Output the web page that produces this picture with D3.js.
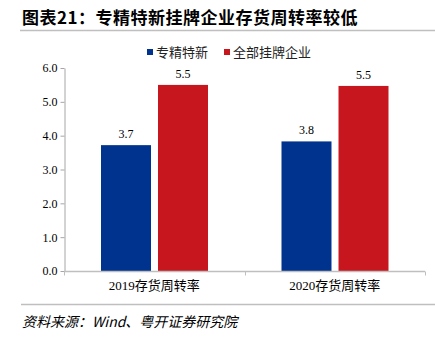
<!DOCTYPE html>
<html><head><meta charset="utf-8">
<script src="https://cdn.jsdelivr.net/npm/d3@7"></script>
<style>body{margin:0;background:#fff}svg{display:block}</style>
</head><body>
<svg id="c" width="435" height="338"></svg>
<script>
const categories = ["2019存货周转率", "2020存货周转率"];
const seriesNames = ["专精特新", "全部挂牌企业"];
const seriesA = [3.72, 3.83];
const seriesB = [5.50, 5.47];
const labelsA = ["3.7", "3.8"];
const labelsB = ["5.5", "5.5"];
const yTicks = [0, 1, 2, 3, 4, 5, 6];
const titleText = "图表21：专精特新挂牌企业存货周转率较低";
const sourceText = "资料来源：Wind、粤开证券研究院";

const colors = ["#00338D", "#C8161E"];
const serif = "'Liberation Serif','Noto Sans CJK SC',serif";
const cjk = "'Noto Sans CJK SC',sans-serif";
const svg = d3.select("#c");

// Title
svg.append("text").attr("x", 22).attr("y", 24).text(titleText)
  .attr("font-family", "'Noto Sans CJK SC',sans-serif").attr("font-weight", "bold")
  .attr("font-size", 17).attr("letter-spacing", 0.5).attr("fill", "#000");
svg.append("line").attr("x1", 20).attr("x2", 435).attr("y1", 30.5).attr("y2", 30.5)
  .attr("stroke", "#bfbfbf").attr("stroke-width", 1.5);

// Scales
const y = d3.scaleLinear().domain([0, 6]).range([271, 68]);
const x0 = d3.scaleBand().domain(categories).range([64, 425]).padding(0);
const x1 = d3.scaleBand().domain(seriesNames).range([37, 144]).paddingInner(0.123).paddingOuter(0);

// Y axis
const yAxis = svg.append("g").attr("transform", "translate(64.5,0)")
  .call(d3.axisLeft(y).tickValues(yTicks).tickFormat(d3.format(".1f")).tickSize(4).tickSizeOuter(0));
yAxis.select(".domain").attr("stroke", "#a6a6a6");
yAxis.selectAll(".tick line").attr("stroke", "#a6a6a6");
yAxis.selectAll(".tick text").attr("font-family", serif).attr("font-size", 12).attr("fill", "#000").attr("x", -7);

// Bars
const data = categories.map((c, i) => ({c, vals: [
  {s: seriesNames[0], v: seriesA[i], l: labelsA[i], k: 0},
  {s: seriesNames[1], v: seriesB[i], l: labelsB[i], k: 1}]}));
const g = svg.selectAll(".grp").data(data).enter().append("g")
  .attr("transform", d => `translate(${x0(d.c)},0)`);
g.selectAll("rect").data(d => d.vals).enter().append("rect")
  .attr("x", d => x1(d.s)).attr("width", x1.bandwidth())
  .attr("y", d => y(d.v)).attr("height", d => y(0) - y(d.v))
  .attr("fill", d => colors[d.k]);
g.selectAll("text.val").data(d => d.vals).enter().append("text")
  .attr("class", "val")
  .attr("x", d => x1(d.s) + x1.bandwidth() / 2).attr("y", d => y(d.v) - 7)
  .attr("text-anchor", "middle").attr("font-family", serif).attr("font-size", 12)
  .attr("fill", "#000").text(d => d.l);

// X axis
const xAxis = svg.append("g").attr("transform", "translate(0,271.5)");
xAxis.append("line").attr("x1", 64).attr("x2", 425).attr("stroke", "#bfbfbf").attr("stroke-width", 1.5);
const xTickPos = [x0(categories[0]), x0(categories[1]), x0(categories[1]) + x0.bandwidth()];
xAxis.selectAll("line.t").data(xTickPos).enter().append("line").attr("class", "t")
  .attr("x1", d => Math.round(d) + 0.5).attr("x2", d => Math.round(d) + 0.5).attr("y1", 0).attr("y2", 4)
  .attr("stroke", "#bfbfbf");
xAxis.selectAll("text").data(categories).enter().append("text")
  .attr("x", d => x0(d) + x0.bandwidth() / 2).attr("y", 18)
  .attr("text-anchor", "middle").attr("font-family", serif).attr("font-size", 13)
  .attr("fill", "#000").text(d => d);

// Legend
const legend = [{n: seriesNames[0], x: 147}, {n: seriesNames[1], x: 224}];
legend.forEach((l, i) => {
  svg.append("rect").attr("x", l.x).attr("y", 49).attr("width", 6).attr("height", 6).attr("fill", colors[i]);
  svg.append("text").attr("x", l.x + 9).attr("y", 57).text(l.n)
    .attr("font-family", cjk).attr("font-size", 13).attr("fill", "#222");
});

// Bottom line and source
svg.append("line").attr("x1", 21).attr("x2", 435).attr("y1", 304.5).attr("y2", 304.5)
  .attr("stroke", "#bfbfbf").attr("stroke-width", 1.5);
svg.append("text").attr("x", 22).attr("y", 327).text(sourceText)
  .attr("font-family", cjk).attr("font-style", "italic").attr("font-size", 14).attr("fill", "#000");
</script>
</body></html>
